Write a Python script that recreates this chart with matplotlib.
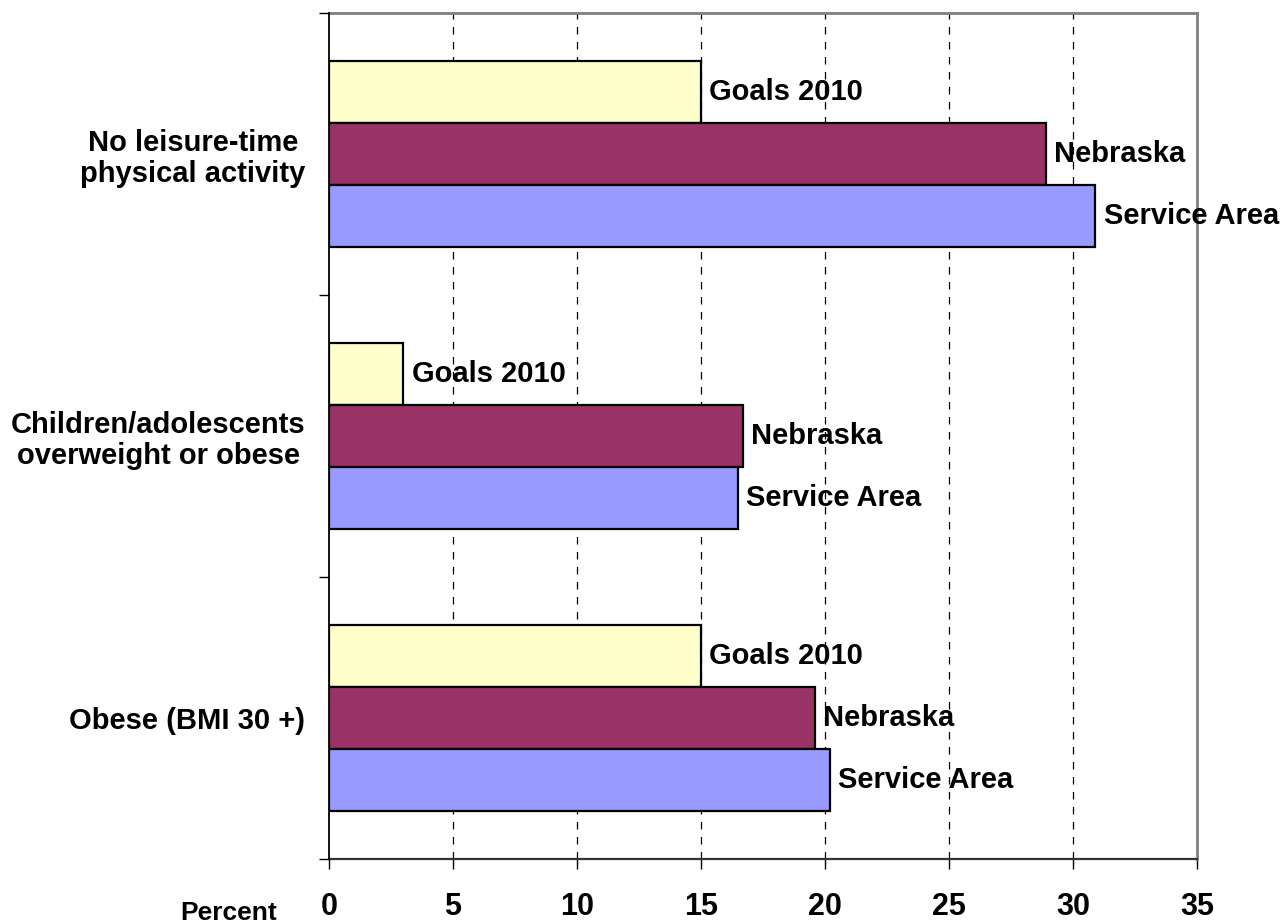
import numpy as np
import matplotlib
matplotlib.use("Agg")
import matplotlib.pyplot as plt

# data
categories = ["No leisure-time\nphysical activity",
              "Children/adolescents\noverweight or obese",
              "Obese (BMI 30 +)"]
series_names = ["Goals 2010", "Nebraska", "Service Area"]
goals = [15, 3, 15]
nebraska = [28.9, 16.7, 19.6]
service = [30.9, 16.5, 20.2]
xticks = [0, 5, 10, 15, 20, 25, 30, 35]

colors = ["#FFFFCC", "#993366", "#9999FF"]

plt.rcParams['font.family'] = ['Liberation Sans', 'DejaVu Sans']

fig = plt.figure(figsize=(12.83, 9.23), dpi=100)
ax = fig.add_axes([329/1283, 1 - 859/923, (1197-329)/1283, (859-13)/923])

# categories top to bottom, one band each
centers = np.array([2.5, 1.5, 0.5])
h = 0.221
offsets = [h, 0, -h]
for vals, name, col, off in zip([goals, nebraska, service], series_names, colors, offsets):
    ax.barh(centers + off, vals, height=h, color=col, edgecolor="black", linewidth=1.6, zorder=3)
    for y, v in zip(centers + off, vals):
        ax.text(v + 0.33, y, name, va="center", ha="left", fontsize=21, fontweight="bold", zorder=4)

ax.set_xlim(0, 35)
ax.set_ylim(0, 3)
ax.set_xticks(xticks)
ax.set_xticklabels([str(t) for t in xticks], fontsize=22, fontweight="bold")
ax.tick_params(axis="x", direction="out", length=7.5, width=1, pad=16)
ax.set_yticks([0, 1, 2, 3])
ax.set_yticklabels([])
ax.set_yticks(centers, minor=True)
ax.set_yticklabels(categories, minor=True, fontsize=21, fontweight="bold", ha="right",
                   multialignment="center", linespacing=1.15)
ax.tick_params(axis="y", which="minor", length=0, pad=17)
ax.tick_params(axis="y", which="major", direction="out", length=7, width=1)

for t in xticks[1:-1]:
    ax.axvline(t, linestyle=(0, (6, 6)), color="black", linewidth=0.9, zorder=1)

for s in ["top", "right"]:
    ax.spines[s].set_color("#808080")
    ax.spines[s].set_linewidth(2)
ax.spines["left"].set_linewidth(1.3)
ax.spines["left"].set_zorder(5)
ax.spines["bottom"].set_linewidth(1.6)
ax.spines["bottom"].set_color("#333333")

fig.text(229/1283, 1 - 920/923, "Percent", ha="center", va="baseline", fontsize=19, fontweight="bold")

plt.savefig("out.png", dpi=100)
plt.close()
